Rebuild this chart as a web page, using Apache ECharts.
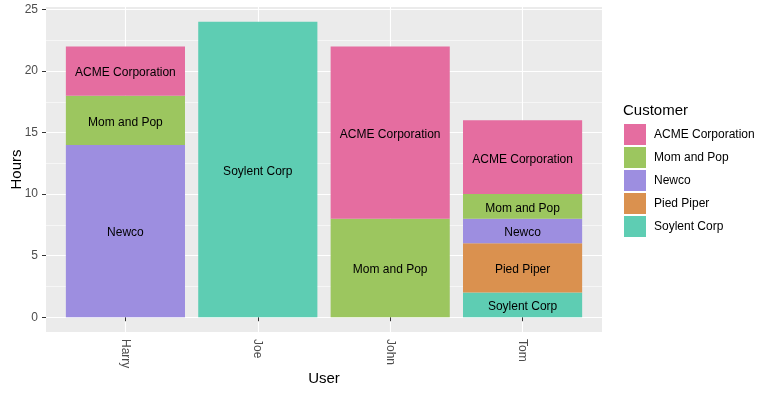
<!DOCTYPE html>
<html><head><meta charset="utf-8">
<script src="https://cdn.jsdelivr.net/npm/echarts@6/dist/echarts.min.js"></script>
<style>html,body{margin:0;padding:0;background:#fff}#c{width:770px;height:394px}</style>
</head><body><div id="c"></div>
<script>
const users = ['Harry', 'Joe', 'John', 'Tom'];
const customers = ['ACME Corporation', 'Mom and Pop', 'Newco', 'Pied Piper', 'Soylent Corp'];
const acme = [4, null, 14, 6];
const momAndPop = [4, null, 8, 2];
const newco = [14, null, null, 2];
const piedPiper = [null, null, null, 4];
const soylent = [null, 24, null, 2];
const yTicks = [0, 5, 10, 15, 20, 25];
const yMinor = [2.5, 7.5, 12.5, 17.5, 22.5];
const xPos = [1, 2, 3, 4];

const colors = {
  'ACME Corporation': '#E56DA0',
  'Mom and Pop': '#9CC65F',
  'Newco': '#9D8EE0',
  'Pied Piper': '#DA914F',
  'Soylent Corp': '#5ECDB3'
};
const valuesBy = {
  'ACME Corporation': acme,
  'Mom and Pop': momAndPop,
  'Newco': newco,
  'Pied Piper': piedPiper,
  'Soylent Corp': soylent
};
const FONT = 'Liberation Sans, Arial, sans-serif';
const stackOrder = customers.slice().reverse();

// panel geometry (ggplot expansion: x 0.4..4.6, y -1.2..25.2)
const P = { left: 46, top: 7, width: 556, height: 325 };
const xMin = 0.4, xMax = 4.6, yMin = -1.2, yMax = 25.2;
const pxX = P.width / (xMax - xMin);
const pxY = P.height / (yMax - yMin);

const series = stackOrder.map(name => ({
  name: name,
  type: 'bar',
  stack: 'total',
  xAxisIndex: 1,
  yAxisIndex: 2,
  barCategoryGap: '10%',
  itemStyle: { color: colors[name] },
  label: {
    show: true, position: 'inside', color: '#000', fontSize: 12, fontFamily: FONT,
    offset: [0, 2],
    formatter: () => name
  },
  emphasis: { disabled: true },
  data: valuesBy[name].map(v => v == null ? '-' : v)
}));

const chart = echarts.init(document.getElementById('c'), null, { renderer: 'canvas' });
chart.setOption({
  animation: false,
  backgroundColor: '#fff',
  color: stackOrder.map(n => colors[n]),
  title: {
    text: 'Customer', left: 618, top: 98, padding: 5,
    textStyle: { fontSize: 15, fontWeight: 'normal', color: '#000', fontFamily: FONT }
  },
  legend: {
    data: customers, orient: 'vertical', left: 619, top: 119,
    itemWidth: 22, itemHeight: 21, itemGap: 2, icon: 'rect',
    textStyle: { fontSize: 12, color: '#000', fontFamily: FONT, padding: [0, 0, 0, 3] },
    selectedMode: false
  },
  grid: [
    { left: P.left, top: P.top, width: P.width, height: P.height, containLabel: false, outerBoundsMode: 'none',
      show: true, backgroundColor: '#EBEBEB', borderWidth: 0 },
    { left: P.left + (0.5 - xMin) * pxX, width: 4 * pxX,
      top: P.top + (yMax - 25) * pxY, height: 25 * pxY,
      containLabel: false, outerBoundsMode: 'none', show: false }
  ],
  xAxis: [{
    type: 'value', gridIndex: 0, min: xMin, max: xMax,
    name: 'User', nameLocation: 'middle', nameGap: 39, nameMoveOverlap: false,
    nameTextStyle: { fontSize: 15, color: '#000', fontFamily: FONT },
    axisLine: { show: false },
    axisTick: { show: true, length: 4, lineStyle: { color: '#333' }, customValues: xPos },
    axisLabel: { rotate: -90, margin: 7, fontSize: 12, color: '#4D4D4D', fontFamily: FONT, customValues: xPos,
      formatter: v => users[Math.round(v) - 1] },
    splitLine: { show: true, lineStyle: { color: '#fff', width: 1.1 } }
  }, {
    type: 'category', gridIndex: 1, data: users, boundaryGap: true,
    axisLine: { show: false }, axisTick: { show: false }, axisLabel: { show: false }, splitLine: { show: false }
  }],
  yAxis: [{
    type: 'value', gridIndex: 0, min: yMin, max: yMax,
    name: 'Hours', nameLocation: 'middle', nameGap: 22, nameMoveOverlap: false,
    nameTextStyle: { fontSize: 15, color: '#000', fontFamily: FONT },
    axisLine: { show: false },
    axisTick: { show: true, length: 4, lineStyle: { color: '#333' }, customValues: yTicks },
    axisLabel: { margin: 8, fontSize: 12, color: '#4D4D4D', fontFamily: FONT, customValues: yTicks },
    splitLine: { show: true, lineStyle: { color: '#fff', width: 1.1 } }
  }, {
    type: 'value', gridIndex: 0, min: yMin, max: yMax, position: 'left',
    axisLine: { show: false },
    axisTick: { show: false, customValues: yMinor },
    axisLabel: { show: false, customValues: yMinor },
    splitLine: { show: true, lineStyle: { color: '#fff', width: 0.55 } }
  }, {
    type: 'value', gridIndex: 1, min: 0, max: 25,
    axisLine: { show: false }, axisTick: { show: false }, axisLabel: { show: false }, splitLine: { show: false }
  }],
  series: series
});
</script></body></html>
